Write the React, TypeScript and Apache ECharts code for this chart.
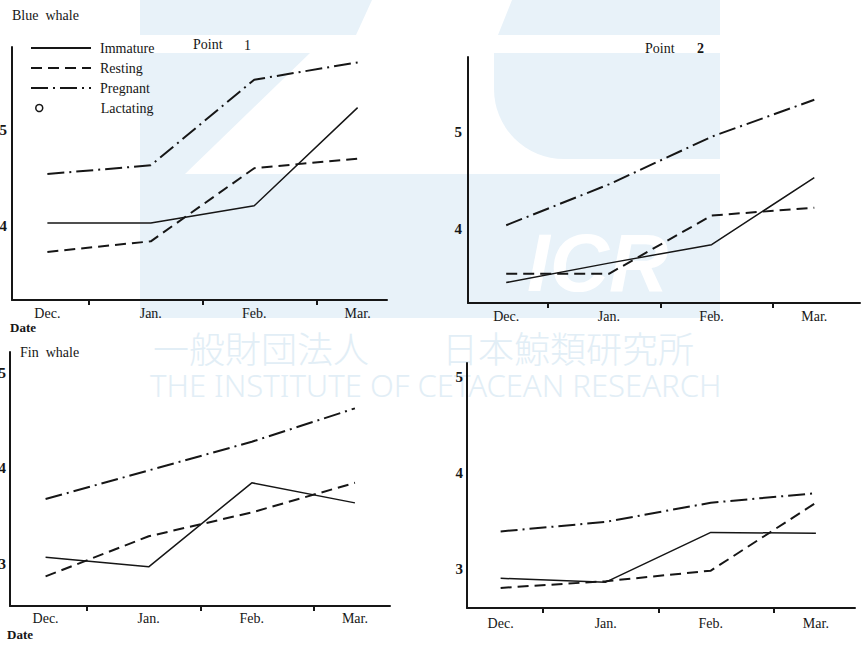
import React, { useEffect, useRef } from 'react';
import * as echarts from 'echarts';

// ---- data ----
const months = ['Dec.', 'Jan.', 'Feb.', 'Mar.'];
const seriesNames = ['Immature', 'Resting', 'Pregnant', 'Lactating'];

// Blue whale, Point 1
const blue1Immature = [4.03, 4.03, 4.21, 5.23];
const blue1Resting = [3.73, 3.84, 4.6, 4.7];
const blue1Pregnant = [4.54, 4.63, 5.52, 5.7];
// Blue whale, Point 2
const blue2Immature = [3.45, 3.65, 3.84, 4.53];
const blue2Resting = [3.54, 3.54, 4.14, 4.22];
const blue2Pregnant = [4.04, 4.46, 4.95, 5.33];
// Fin whale, Point 1
const fin1Immature = [3.07, 2.97, 3.85, 3.64];
const fin1Resting = [2.87, 3.29, 3.54, 3.85];
const fin1Pregnant = [3.68, 3.98, 4.28, 4.63];
// Fin whale, Point 2
const fin2Immature = [2.9, 2.86, 3.38, 3.37];
const fin2Resting = [2.8, 2.87, 2.98, 3.69];
const fin2Pregnant = [3.39, 3.49, 3.69, 3.79];

const blueYTicks = [4, 5];
const finYTicks = [3, 4, 5];
const monthTickMarks = [0.4, 1.5, 2.6];

const INK = '#161616';
const SERIF = '"Liberation Serif", "DejaVu Serif", serif';
const WM = '#e8f2f9';
const WM_TEXT = '#e2eef6';

const panels = [
  { grid: { left: 12, top: 47, width: 375, height: 253 }, x: [-0.342, 3.284], y: [3.23, 5.86], yTicks: blueYTicks, xMargin: 6, yMargin: 5, data: [blue1Immature, blue1Resting, blue1Pregnant] },
  { grid: { left: 468, top: 57, width: 392, height: 246 }, x: [-0.372, 3.445], y: [3.24, 5.77], yTicks: blueYTicks, xMargin: 6, yMargin: 6, data: [blue2Immature, blue2Resting, blue2Pregnant] },
  { grid: { left: 10, top: 352, width: 380, height: 254 }, x: [-0.345, 3.34], y: [2.56, 5.22], yTicks: finYTicks, xMargin: 5, yMargin: 4, data: [fin1Immature, fin1Resting, fin1Pregnant] },
  { grid: { left: 467, top: 363, width: 388, height: 245 }, x: [-0.32, 3.372], y: [2.59, 5.15], yTicks: finYTicks, xMargin: 8, yMargin: 4, data: [fin2Immature, fin2Resting, fin2Pregnant] },
];

const lineStyles: any[] = [
  { type: 'solid', width: 1.5 },
  { type: [11, 6], width: 2 },
  { type: [17, 5, 2, 5], width: 2 },
];

function txt(text: string, x: number, y: number, size = 14, extra: any = {}) {
  return {
    type: 'text',
    x,
    y,
    silent: true,
    style: { text, fill: INK, font: `${size}px ${SERIF}`, verticalAlign: 'middle', ...extra },
  };
}

export default function App() {
  const ref = useRef<HTMLDivElement>(null);

  useEffect(() => {
    if (!ref.current) return;
    const chart = echarts.init(ref.current, null, { renderer: 'svg' });

    const grids = panels.map((p) => ({ ...p.grid, containLabel: false, outerBoundsMode: 'none' }));
    const xAxes = panels.map((p, i) => ({
      type: 'value',
      gridIndex: i,
      min: p.x[0],
      max: p.x[1],
      splitLine: { show: false },
      axisLine: { show: true, onZero: false, lineStyle: { color: INK, width: 2 } },
      axisTick: { show: true, customValues: monthTickMarks, length: 5, lineStyle: { color: INK, width: 2 } },
      axisLabel: {
        customValues: [0, 1, 2, 3],
        formatter: (v: number) => months[Math.round(v)] ?? '',
        color: INK,
        fontFamily: SERIF,
        fontSize: 14,
        margin: p.xMargin,
      },
    }));
    const yAxes = panels.map((p, i) => ({
      type: 'value',
      gridIndex: i,
      min: p.y[0],
      max: p.y[1],
      splitLine: { show: false },
      axisLine: { show: true, onZero: false, lineStyle: { color: INK, width: 2 } },
      axisTick: { show: false },
      axisLabel: {
        customValues: p.yTicks,
        color: INK,
        fontFamily: SERIF,
        fontSize: 15,
        fontWeight: 'bold',
        margin: p.yMargin,
      },
    }));

    const series: any[] = [];
    panels.forEach((p, pi) => {
      p.data.forEach((vals, si) => {
        series.push({
          type: 'line',
          name: seriesNames[si],
          xAxisIndex: pi,
          yAxisIndex: pi,
          symbol: 'none',
          data: vals.map((v, i) => [i, v]),
          lineStyle: { color: INK, ...lineStyles[si] },
          itemStyle: { color: INK },
        });
      });
    });
    series.push({
      type: 'line',
      name: seriesNames[3],
      xAxisIndex: 0,
      yAxisIndex: 0,
      data: [],
      symbol: 'emptyCircle',
      symbolSize: 6,
      lineStyle: { color: INK, width: 0, opacity: 0 },
      itemStyle: { color: '#ffffff', borderColor: INK, borderWidth: 1.5 },
    });

    const watermark: any[] = [
      { type: 'polygon', z: -1, silent: true, shape: { points: [[140, 0], [372, 0], [356, 35], [140, 35]] }, style: { fill: WM } },
      { type: 'polygon', z: -1, silent: true, shape: { points: [[512, 0], [720, 0], [720, 35], [498, 35]] }, style: { fill: WM } },
      { type: 'polygon', z: -1, silent: true, shape: { points: [[140, 53], [310, 53], [185, 174], [140, 174]] }, style: { fill: WM } },
      { type: 'rect', z: -1, silent: true, shape: { x: 494, y: 53, width: 226, height: 106, r: [0, 0, 0, 70] }, style: { fill: WM } },
      { type: 'rect', z: -1, silent: true, shape: { x: 140, y: 174, width: 580, height: 144 }, style: { fill: WM } },
      { type: 'text', z: -1, silent: true, x: 527, y: 262, style: { text: 'ICR', fill: '#ffffff', font: 'italic bold 82px "Liberation Sans", Arial, sans-serif', verticalAlign: 'middle' } },
      { type: 'text', z: -1, silent: true, x: 153, y: 347, style: { text: '一般財団法人', fill: WM_TEXT, font: '300 36px "Noto Sans CJK JP", sans-serif', verticalAlign: 'middle' } },
      { type: 'text', z: -1, silent: true, x: 442, y: 347, style: { text: '日本鯨類研究所', fill: WM_TEXT, font: '300 36px "Noto Sans CJK JP", sans-serif', verticalAlign: 'middle' } },
      { type: 'text', z: -1, silent: true, x: 150, y: 385, style: { text: 'THE INSTITUTE OF CETACEAN RESEARCH', fill: WM_TEXT, font: '300 31px "Noto Sans", sans-serif', verticalAlign: 'middle' } },
    ];

    const labels: any[] = [
      txt('Blue  whale', 12, 15, 14),
      txt('Point', 193, 44, 14),
      txt('1', 244, 45, 14),
      txt('Point', 645, 48, 14),
      txt('2', 697, 48, 14, { font: `bold 14px ${SERIF}` }),
      txt('Date', 10, 327, 13, { font: `bold 13px ${SERIF}` }),
      txt('Fin  whale', 20, 352, 14),
      txt('Date', 7, 634, 13, { font: `bold 13px ${SERIF}` }),
    ];

    const legendText = { color: INK, fontFamily: SERIF, fontSize: 14 };

    chart.setOption({
      animation: false,
      backgroundColor: '#ffffff',
      grid: grids,
      xAxis: xAxes,
      yAxis: yAxes,
      legend: [
        {
          data: seriesNames.slice(0, 3).map((name) => ({ name, itemStyle: { opacity: 0 } })),
          orient: 'vertical',
          left: 30,
          top: 41,
          itemWidth: 60,
          itemHeight: 14,
          itemGap: 6,
          selectedMode: false,
          padding: 0,
          textStyle: { ...legendText, padding: [0, 0, 0, 4] },
        },
        {
          data: [{ name: seriesNames[3], icon: 'circle', lineStyle: { opacity: 0 }, itemStyle: { color: '#ffffff', borderColor: INK, borderWidth: 1.5 } }],
          orient: 'vertical',
          left: 35,
          top: 101,
          itemWidth: 7,
          itemHeight: 7,
          selectedMode: false,
          padding: 0,
          textStyle: { ...legendText, padding: [0, 0, 0, 53] },
        },
      ],
      graphic: [...watermark, ...labels],
      series,
    });

    return () => chart.dispose();
  }, []);

  return (
    <div
      ref={ref}
      style={{ position: 'absolute', left: 0, top: 0, width: 863, height: 651, background: '#fff' }}
    />
  );
}
